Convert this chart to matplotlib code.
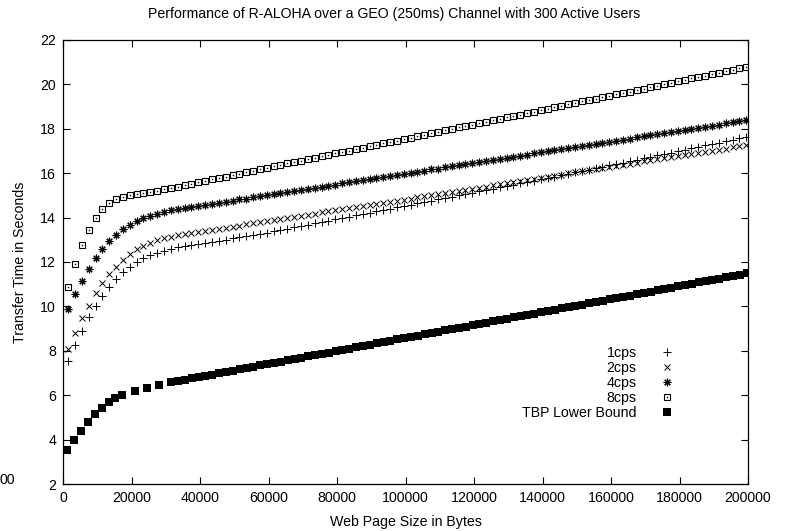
import matplotlib
matplotlib.use("Agg")
import matplotlib.pyplot as plt
from matplotlib.legend_handler import HandlerTuple

plt.rcParams['font.family'] = ['Liberation Sans', 'DejaVu Sans']

# ---- data ----
page_sizes = list(range(1500, 200000, 2000))   # sampling grid of the cps runs (100 sizes)

cps1 = [7.54, 8.26, 8.89, 9.51, 10.03, 10.48, 10.89, 11.23, 11.55, 11.79,
        11.99, 12.17, 12.30, 12.42, 12.51, 12.60, 12.66, 12.71, 12.76, 12.81,
        12.86, 12.91, 12.96, 13.01, 13.06, 13.11, 13.16, 13.21, 13.26, 13.32,
        13.38, 13.44, 13.50, 13.56, 13.62, 13.68, 13.74, 13.80, 13.86, 13.92,
        13.98, 14.04, 14.10, 14.16, 14.22, 14.28, 14.34, 14.40, 14.46, 14.52,
        14.58, 14.64, 14.70, 14.76, 14.82, 14.88, 14.94, 15.00, 15.06, 15.12,
        15.18, 15.25, 15.31, 15.37, 15.43, 15.49, 15.55, 15.61, 15.67, 15.73,
        15.79, 15.85, 15.91, 15.98, 16.04, 16.10, 16.16, 16.23, 16.29, 16.35,
        16.42, 16.48, 16.54, 16.61, 16.67, 16.74, 16.80, 16.86, 16.93, 16.99,
        17.06, 17.12, 17.18, 17.25, 17.31, 17.38, 17.44, 17.51, 17.57, 17.64]

cps2 = [8.08, 8.82, 9.46, 10.03, 10.59, 11.04, 11.45, 11.79, 12.09, 12.35,
        12.57, 12.72, 12.87, 12.97, 13.06, 13.14, 13.20, 13.25, 13.30, 13.35,
        13.40, 13.44, 13.49, 13.54, 13.59, 13.64, 13.69, 13.74, 13.79, 13.84,
        13.88, 13.93, 13.98, 14.03, 14.08, 14.13, 14.18, 14.23, 14.28, 14.32,
        14.37, 14.42, 14.47, 14.52, 14.57, 14.62, 14.67, 14.72, 14.77, 14.81,
        14.86, 14.91, 14.96, 15.01, 15.06, 15.11, 15.16, 15.21, 15.25, 15.30,
        15.35, 15.40, 15.45, 15.50, 15.55, 15.60, 15.65, 15.69, 15.74, 15.79,
        15.84, 15.89, 15.94, 15.99, 16.04, 16.09, 16.14, 16.18, 16.23, 16.28,
        16.33, 16.38, 16.43, 16.48, 16.53, 16.58, 16.62, 16.67, 16.72, 16.77,
        16.82, 16.87, 16.92, 16.97, 17.02, 17.06, 17.11, 17.16, 17.21, 17.26]

cps4 = [9.90, 10.55, 11.14, 11.67, 12.17, 12.57, 12.95, 13.22, 13.49, 13.68,
        13.85, 13.98, 14.08, 14.17, 14.25, 14.32, 14.38, 14.43, 14.48, 14.53,
        14.58, 14.62, 14.67, 14.72, 14.77, 14.82, 14.86, 14.91, 14.96, 15.01,
        15.06, 15.11, 15.15, 15.20, 15.25, 15.30, 15.35, 15.39, 15.44, 15.49,
        15.54, 15.59, 15.64, 15.68, 15.73, 15.78, 15.83, 15.88, 15.92, 15.97,
        16.02, 16.07, 16.12, 16.17, 16.21, 16.26, 16.31, 16.36, 16.41, 16.45,
        16.50, 16.55, 16.60, 16.65, 16.70, 16.74, 16.79, 16.84, 16.89, 16.94,
        16.98, 17.03, 17.08, 17.13, 17.18, 17.23, 17.27, 17.32, 17.37, 17.42,
        17.47, 17.51, 17.56, 17.61, 17.66, 17.71, 17.76, 17.80, 17.85, 17.90,
        17.95, 18.00, 18.04, 18.09, 18.14, 18.19, 18.24, 18.29, 18.33, 18.38]

cps8 = [10.89, 11.91, 12.77, 13.44, 14.00, 14.39, 14.64, 14.82, 14.94, 15.00,
        15.05, 15.10, 15.15, 15.21, 15.27, 15.33, 15.40, 15.46, 15.53, 15.59,
        15.66, 15.72, 15.79, 15.85, 15.92, 15.98, 16.04, 16.11, 16.18, 16.24,
        16.31, 16.37, 16.44, 16.50, 16.57, 16.63, 16.70, 16.76, 16.82, 16.89,
        16.95, 17.02, 17.08, 17.15, 17.21, 17.28, 17.34, 17.41, 17.47, 17.54,
        17.60, 17.67, 17.73, 17.80, 17.86, 17.93, 17.99, 18.06, 18.12, 18.19,
        18.25, 18.32, 18.38, 18.45, 18.51, 18.58, 18.64, 18.71, 18.77, 18.84,
        18.90, 18.97, 19.03, 19.10, 19.16, 19.23, 19.29, 19.36, 19.42, 19.49,
        19.55, 19.62, 19.68, 19.75, 19.81, 19.88, 19.94, 20.01, 20.07, 20.14,
        20.20, 20.27, 20.33, 20.40, 20.46, 20.53, 20.59, 20.66, 20.72, 20.79]

tbp_sizes = ([1250, 3300, 5350, 7400, 9450, 11450, 13500, 15300, 17300,
              21100, 24600, 28100, 31600]
             + list(range(33600, 200000, 2000)))
tbp = [3.52, 3.98, 4.40, 4.80, 5.14, 5.44, 5.68, 5.87, 6.01, 6.19, 6.32, 6.46, 6.58,
       6.64, 6.70, 6.76, 6.81, 6.87, 6.93, 6.99, 7.05, 7.11, 7.16,
       7.22, 7.28, 7.34, 7.40, 7.46, 7.51, 7.57, 7.63, 7.69, 7.75,
       7.81, 7.86, 7.92, 7.98, 8.04, 8.10, 8.16, 8.22, 8.27, 8.33,
       8.39, 8.45, 8.51, 8.57, 8.62, 8.68, 8.74, 8.80, 8.86, 8.92,
       8.97, 9.03, 9.09, 9.15, 9.21, 9.27, 9.32, 9.38, 9.44, 9.50,
       9.56, 9.62, 9.68, 9.73, 9.79, 9.85, 9.91, 9.97, 10.03, 10.08,
       10.14, 10.20, 10.26, 10.32, 10.38, 10.43, 10.49, 10.55, 10.61, 10.67,
       10.73, 10.78, 10.84, 10.90, 10.96, 11.02, 11.08, 11.13, 11.19, 11.25,
       11.31, 11.37, 11.43, 11.49]

labels = ["1cps", "2cps", "4cps", "8cps", "TBP Lower Bound"]
x_ticks = [0, 20000, 40000, 60000, 80000, 100000, 120000, 140000, 160000, 180000, 200000]
y_ticks = [2, 4, 6, 8, 10, 12, 14, 16, 18, 20, 22]

# ---- figure ----
W, H = 789, 531
fig = plt.figure(figsize=(W / 100, H / 100), dpi=100)
ax = fig.add_axes([63 / W, 1 - 484 / H, (748 - 63) / W, (484 - 40) / H])

FS = 10.2
h1, = ax.plot(page_sizes, cps1, ls='none', marker='+', ms=5.5, mew=0.7, color='black')
h2, = ax.plot(page_sizes, cps2, ls='none', marker='x', ms=4.8, mew=0.7, color='black')
h4, = ax.plot(page_sizes, cps4, ls='none', marker=(8, 2, 0), ms=5.5, mew=0.8, color='black')
h8, = ax.plot(page_sizes, cps8, ls='none', marker='s', ms=5.0, mew=0.8, mfc='none', color='black')
h8d, = ax.plot(page_sizes, cps8, ls='none', marker='s', ms=1.0, mew=0, color='black')
ht, = ax.plot(tbp_sizes, tbp, ls='none', marker='s', ms=5.2, mew=0, color='black')

ax.set_xlim(0, 200000)
ax.set_ylim(2, 22)
ax.set_xticks(x_ticks)
ax.set_yticks(y_ticks)
ax.set_xticklabels([str(v) for v in x_ticks])
ax.set_yticklabels([str(v) for v in y_ticks])
ax.tick_params(direction='in', length=5, width=0.8, top=True, right=True,
               labelsize=FS, pad=5)
for s in ax.spines.values():
    s.set_linewidth(0.9)

ax.set_xlabel("Web Page Size in Bytes", fontsize=FS, labelpad=7.5)
ax.set_ylabel("Transfer Time in Seconds", fontsize=FS, labelpad=9.5)
fig.text(0.5, 1 - 14 / H, "Performance of R-ALOHA over a GEO (250ms) Channel with 300 Active Users",
         ha='center', va='center', fontsize=FS)
fig.text(0.0, 1 - 480 / H, "00", ha='left', va='center', fontsize=FS)

leg = ax.legend([h1, h2, h4, (h8, h8d), ht], labels,
                handler_map={tuple: HandlerTuple(ndivide=1)},
                markerfirst=False, frameon=False, fontsize=FS,
                loc='upper right', bbox_to_anchor=(677 / W, 1 - 346 / H),
                bbox_transform=fig.transFigure,
                handlelength=1.4, handletextpad=1.45, labelspacing=0.07,
                borderpad=0, borderaxespad=0)

fig.savefig("out.png", dpi=100)
